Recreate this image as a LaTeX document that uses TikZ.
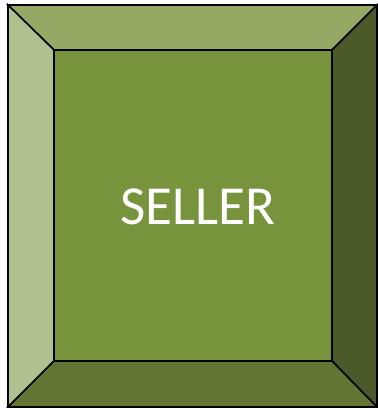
\documentclass[tikz,border=0pt]{standalone}
\usepackage{fontspec}
\setmainfont{Carlito}
\usetikzlibrary{positioning}

\definecolor{faceTop}{RGB}{151,168,101}
\definecolor{faceLeft}{RGB}{176,192,142}
\definecolor{faceRight}{RGB}{75,90,40}
\definecolor{faceBottom}{RGB}{99,117,50}
\definecolor{faceMid}{RGB}{119,147,60}

\tikzset{
  bevel/.style={draw=black, line width=1.6pt, line join=miter}
}

\begin{document}
\begin{tikzpicture}[x=1pt, y=-1pt]
  \useasboundingbox (0,0) rectangle (378,408);

  % Ecken aussen
  \coordinate (o1) at (8,5);
  \coordinate (o2) at (377,5);
  \coordinate (o3) at (377,407);
  \coordinate (o4) at (8,407);
  % Ecken innen
  \coordinate (i1) at (54,50);
  \coordinate (i2) at (332,50);
  \coordinate (i3) at (332,361);
  \coordinate (i4) at (54,361);

  % Seitenflaechen
  \filldraw[bevel, fill=faceTop] (o1) -- (o2) -- (i2) -- (i1) -- cycle;
  \filldraw[bevel, fill=faceLeft] (o1) -- (i1) -- (i4) -- (o4) -- cycle;
  \filldraw[bevel, fill=faceRight] (o2) -- (o3) -- (i3) -- (i2) -- cycle;
  \filldraw[bevel, fill=faceBottom] (i4) -- (i3) -- (o3) -- (o4) -- cycle;

  % Mitte
  \filldraw[bevel, fill=faceMid] (i1) rectangle (i3);
  \node[text=white, font=\fontsize{55}{60}\selectfont] (seller) at (198,207) {SELLER};
\end{tikzpicture}
\end{document}
